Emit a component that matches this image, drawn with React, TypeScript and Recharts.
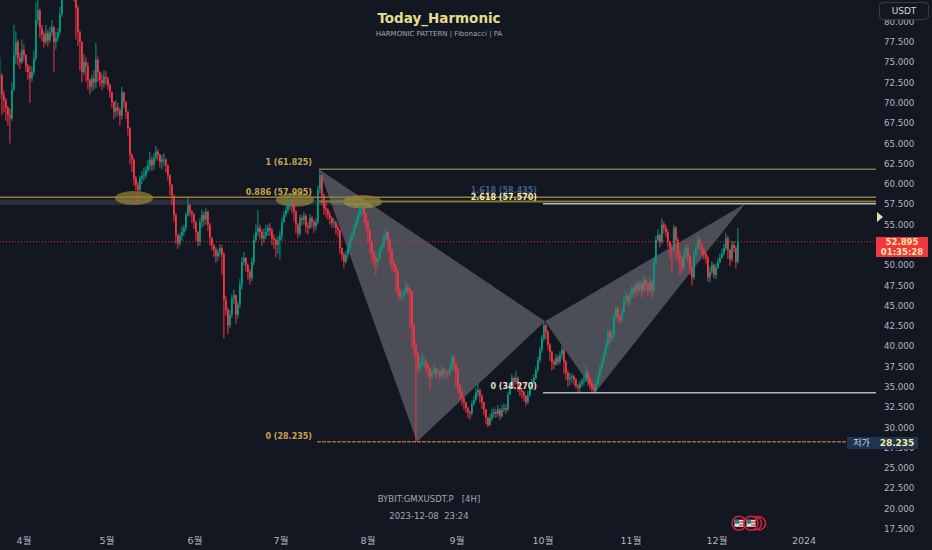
import { Bar, ComposedChart, ReferenceArea, ReferenceDot, ReferenceLine, XAxis, YAxis } from "recharts"

const FONT = "'DejaVu Sans', 'Noto Sans CJK KR', sans-serif"
const BG = "#131722"

// one bar every two pixels
const closes = [
  73.4,71,70.3,69.4,68.5,68.1,71.6,75.9,77.5,75.5,75,76.5,75.9,74.5,73.8,73,73.8,75.5,80.2,81.4,
  79.2,78.4,77.5,78.6,77.7,78.7,79.3,77.5,78,78.7,80.9,83.3,84,85,86,85,84,83.5,81.7,78.7,
  77.5,73.8,75,74.5,72.8,72,73,72.5,75.3,73.8,72.8,72.4,73.2,73,72.2,71.3,70.1,68.9,69.4,69.1,
  68.4,71.3,70.1,68.9,66.9,63.6,63,60.7,59.9,59.3,60.7,61,61.1,61.7,62.3,63,62.3,63.2,64,63.6,
  62.7,63,63,62.3,61.1,59.9,58.6,56.2,53.7,52.7,53.6,54.1,54.6,56.2,57.4,56.6,56.3,55.3,54.1,52.9,
  55.3,56.2,55.6,56.6,55,53.3,52.5,51.9,51.1,51.6,52.1,51.3,45.7,44.5,42.6,43.9,45.9,46.3,43.9,45.1,
  47.6,50.4,50.9,50,49.2,48.4,50.4,53.1,54.1,54.6,54.1,53.3,53.7,54.1,54.6,54.3,53.3,53.1,52.5,53.1,
  53.6,55.3,56.2,56.8,57.4,58,57.4,56.6,55,53.9,55.8,55.6,56.1,54.8,54.6,55.8,55.3,54.8,55.3,59.3,
  61.1,58.6,57,56.8,56.2,55.8,55.2,55.3,54.6,54.3,52.1,51.3,50.4,51.3,52.1,53.1,53.7,54.6,55.3,56.2,
  56.8,57,56.3,55.3,54.3,52.9,51.6,50.9,50.4,50.9,51.9,52.4,53.3,54.1,53.1,51.9,50.4,49.9,49.2,46.9,
  46.2,46.2,46.7,47.3,46.9,46.7,42.6,40.2,39.1,37.3,37.7,38.1,38.1,37.6,37.3,36.3,36.8,37.3,36.6,36.8,
  36.4,37.1,36.7,36.8,36.6,37.3,38.6,37.8,37.1,35.2,34.4,33.6,33.1,32.4,31.9,31.7,32.9,33.4,34.3,34.6,
  33.9,33.1,32.2,31.2,30.3,31.2,31.7,31.9,31.7,32.2,31.4,32.2,32.4,32.2,34,35.2,36.1,35.6,36.1,35.2,
  34.6,34.4,33.9,33.1,34,34.9,35.6,36.1,37.1,38.3,39.6,41,42.6,41.8,40.2,39.3,38.1,37.8,38.6,38.1,
  39,39.6,38.1,36.8,35.9,36.1,36.3,35.9,35.1,34.9,35.4,35.7,35.9,36.8,36.1,35.4,34.9,34.5,35.4,36.3,
  37.3,38.1,39.1,40.2,41.8,41,41.4,43.5,44.7,43.7,43.3,44.2,45.7,46.2,45.5,46.3,47.2,46.7,47.6,46.9,
  47.7,46.9,48.2,47.7,46.9,47.9,46.9,50.4,53.1,53.7,52.9,55,54.6,54.1,52.9,52.1,51.9,54.6,53.1,51.3,
  50.9,49.7,51.3,52.1,51.1,49.7,48.5,51.3,52.1,53.1,52.5,51.9,51.4,50.9,48.5,49.2,50,48.8,49.7,50.4,
  50.9,51.4,52.1,53.3,51.9,50.7,52.5,52.1,50.4,52.9,
]

const highs = [
  75.6,73.6,71.5,70.6,69.6,69.3,72.5,79.6,78.8,77.8,76.2,77.8,77.2,76,74.8,74.6,74.5,76.4,82.4,82.8,
  81.6,79.6,78.8,79.6,79,79.4,80.2,79.5,78.7,79.2,81.8,84.5,85.5,86.5,87,86.5,85.5,85,83.8,82,
  78.9,77.6,76,75.6,75,73,73.5,74,77.4,75.7,73.9,73.6,74,73.9,73.2,72.4,71.4,70.2,70.3,70,
  69.4,72,71.4,70.2,69,67,63.8,63.2,61,60.3,61,61.6,62,62.2,63,64,63.4,63.8,64.7,64.3,
  63.7,63.6,63.8,63.2,62.4,61.2,60,58.7,56.4,53.9,54,54.8,55,56.5,58.4,57.6,56.8,56.4,55.5,54.2,
  55.8,56.9,56.6,57.1,56.7,55.2,53.5,52.6,52.2,52,52.6,52.5,51.6,46.2,44.8,44.5,46.4,47,46.4,45.5,
  48.3,51,51.6,51,50.2,49.5,50.9,53.8,55,56.8,55,54.4,54.5,55,55,55.2,54.6,53.8,53.4,53.6,
  54.2,55.9,56.7,57.2,57.8,58.7,58.2,57.6,56.8,55.2,56.2,56.2,56.6,56.3,55.3,56.3,56.1,55.6,55.8,59.8,
  61.82,61,58.8,57.6,57,56.6,56,55.8,55.5,55,54.4,52.2,51.6,51.8,52.6,53.6,54.2,55,55.8,56.6,
  57.2,57.5,57.2,56.5,55.5,54.4,53,51.8,51.2,51.5,52.3,52.8,53.8,54.5,54.2,53.3,52,50.6,50.1,49.4,
  47.2,46.8,47.2,48,47.6,47.2,46.9,42.8,40.5,39.2,38.6,39,38.8,38.4,37.9,37.4,37.2,37.9,37.5,37.3,
  37.1,37.6,37.4,37.2,37.1,37.8,39.1,38.8,37.9,37.3,35.4,34.6,33.8,33.2,32.6,32.1,33.3,33.9,34.8,35.4,
  34.8,34.1,33.2,32.3,31.3,31.7,32.3,32.5,32.3,32.8,32.4,32.8,33,32.8,34.4,35.6,36.6,36.3,37,36.3,
  35.4,34.9,34.5,34,34.5,35.2,36,36.6,37.5,38.7,40,41.4,43,42.8,42,40.4,39.5,38.4,39.1,38.9,
  39.4,40.1,39.8,38.3,37,36.7,36.7,36.5,36.1,35.4,35.8,36.1,36.4,37.7,37,36.3,35.7,35.3,35.8,36.7,
  37.7,38.6,39.5,40.7,42.2,42,42,44,45,44.9,44,44.7,46.2,46.9,46.4,46.8,47.6,47.5,48,48,
  48.2,48,48.7,48.4,47.9,48.4,48.1,50.9,53.6,54.4,53.9,55.8,55.4,55,54.4,53,52.6,55,54.8,53.4,
  51.7,51,52,52.6,52.4,51.3,49.9,51.8,52.6,53.8,53.4,52.6,52.1,51.6,51.2,49.8,50.5,50.2,50.2,50.9,
  51.4,52,52.6,54,53.6,52,53,52.9,52.4,54.6,
]

const lows = [
  70.5,68.5,68.8,67.8,67.2,65,67.8,71.4,74.8,74.6,74.2,74.8,75.2,73.8,72.8,70,72.6,73.4,75.2,79.6,
  78,77.6,76.8,77.2,76.9,77.4,78.2,73.8,76.6,77.6,78.4,80.6,83,84,85,84,83,82.5,77.8,77,
  74,72.5,73.4,72.6,71.6,71,71.4,71.6,71.8,72.6,72,71.6,71.9,72.2,71.6,70.6,69.4,68,68.2,68.4,
  67.2,67.9,69.4,68,66,62.4,61.5,59.8,59.2,57.7,59,60,60.4,60.7,61.4,61.7,61.6,61.8,62.8,62.9,
  62,61.8,62.2,61.4,60.4,58.6,57.4,55.4,52.6,52,52.4,53,53.6,54.2,56,56,55.2,54.5,53,52.3,
  52.4,54.6,54.8,55,54.2,52.4,51.8,51,50.3,50.5,51,48.8,41,43.8,41.5,42.2,43.5,45.2,42.8,43.4,
  44.7,47,50,49.2,48.2,47.6,48,50,52.8,53.6,53.2,52.4,52.8,53.2,53.6,53.6,52.5,52,51,51.4,
  50.7,53,55.2,55.9,56.4,56.8,56.4,55.4,53.9,53.3,53.6,54.9,55,54,53.8,54.4,54.6,54,54.3,55,
  58.8,57.4,56.2,55.9,55.6,55,54.6,54.6,53.8,53.4,51.4,50.6,49.6,50.2,50.8,51.8,52.8,53.4,54.4,55,
  55.8,56.1,55.2,54.2,52.8,51.4,50.4,49.8,48.8,49.8,50.6,51.6,52.2,52.9,51.6,50,49.4,49,46.6,46,
  45.6,45.6,45.9,46.4,46.3,42.2,39.8,38.8,28.235,36.6,36.9,37.5,37.4,36.8,36.2,34.6,35.9,36.3,36,36.2,
  35.8,36.2,36,36.1,36,36.4,37,36.8,35,34.2,33.4,32.8,32.2,31.8,31.2,31,31.5,32.7,33.2,33.8,
  33,32.3,31.5,30.4,30,30.2,30.8,31.2,31.2,31.3,30.9,31.2,31.9,31.7,32,34.8,35.2,35,35.3,34.4,
  33.9,33.6,33.2,32.6,32.9,33.8,34.6,35.4,35.9,36.8,38,39.2,40.6,40.9,39.6,38.2,37,37.2,37.6,37.7,
  37.8,38.4,36.6,35.9,35,35.2,35.5,35.2,34.8,34.3,34.4,35,35.2,35.6,35.1,34.7,34.3,34.2,34.3,35.2,
  36,37,37.9,38.8,39.8,40.4,40.6,41,43.4,43,42.8,43,43.9,45.2,44.9,45,45.9,46,46.3,46.2,
  46.6,46,46.6,46.8,46.2,46.6,46,46.5,50,52.8,52.2,52.6,53.9,53.4,52.2,50.8,49.2,51.5,50.8,50.4,
  48.8,49,49.5,50.8,50.4,48.8,47.5,48.2,51,51.9,51.8,51.2,50.7,50.2,48,47.9,48.9,48.4,48.3,49.5,
  50.2,50.8,51.2,51.8,50.8,49.9,50.4,51.6,49.6,50.2,
]

const monthTicks = [12, 53.5, 97.5, 140.5, 184, 228.5, 271.5, 315.5, 358.5, 402]
const monthLabels = ["4월", "5월", "6월", "7월", "8월", "9월", "10월", "11월", "12월", "2024"]
const priceTicks = [17.5, 20, 22.5, 25, 27.5, 30, 32.5, 35, 37.5, 40, 42.5, 45, 47.5, 50, 52.5, 55, 57.5, 60, 62.5, 65, 67.5, 70, 72.5, 75, 77.5, 80]

const patternLeft = [[159.5, 61.825], [208.5, 28.235], [272.5, 43.1]]
const patternRight = [[272.5, 43.1], [297.5, 34.27], [372.5, 57.57]]
const zones = [[57.5, 76.5, 57.4, 59.14], [138, 157, 57.2, 58.9], [171.5, 191, 57, 58.65]]

const levels = [
  { y: 61.825, from: 159.5, to: 438, color: "#7f7a33", width: 1.5, dash: "" },
  { y: 58.38, from: 0, to: 438, color: "#9c7a35", width: 1.5, dash: "" },
  { y: 57.86, from: 159.5, to: 438, color: "#7f7a33", width: 2, dash: "" },
  { y: 57.57, from: 271.5, to: 438, color: "#b2b5be", width: 1.5, dash: "" },
  { y: 34.27, from: 271.5, to: 438, color: "#b2b5be", width: 1.5, dash: "" },
  { y: 52.895, from: 0, to: 438, color: "#d9303f", width: 1, dash: "1 2" },
  { y: 28.235, from: 158.5, to: 424, color: "#e09a2f", width: 1, dash: "4 1" },
]

const fibLabels = [
  { text: "1 (61.825)", bar: 156, y: 62.3, color: "#c9a352" },
  { text: "0.886 (57.995)", bar: 156, y: 58.6, color: "#c9a352" },
  { text: "1.618 (58.435)", bar: 268.5, y: 58.9, color: "#3f5f86" },
  { text: "2.618 (57.570)", bar: 268.5, y: 58.05, color: "#f3e9b5" },
  { text: "0 (34.270)", bar: 268.5, y: 34.7, color: "#e4dfc4" },
  { text: "0 (28.235)", bar: 156, y: 28.6, color: "#c9a352" },
]

const flagBars = [369.5, 375.5]
const ringBars = [377.5, 379.5]

const bars = closes.map((close, i) => ({
  bar: i,
  open: i === 0 ? close : closes[i - 1],
  close,
  high: highs[i],
  low: lows[i],
}))

function Candle(props: any) {
  const { x, y, width, height, payload } = props
  if (!payload) return null
  const perUnit = height / (payload.high - payload.low)
  const top = y + (payload.high - Math.max(payload.open, payload.close)) * perUnit
  const size = Math.max(Math.abs(payload.open - payload.close) * perUnit, 1)
  const color = payload.close >= payload.open ? "#089981" : "#f23645"
  return (
    <g>
      <rect x={x + width / 2 - 0.5} y={y} width={1} height={height} fill={color} />
      <rect x={x} y={top} width={width} height={size} fill={color} />
    </g>
  )
}

const triangle = (verts: number[][]) => (p: any) => {
  const xs = verts.map(v => v[0])
  const ys = verts.map(v => v[1])
  const x0 = Math.min(...xs), x1 = Math.max(...xs)
  const y0 = Math.min(...ys), y1 = Math.max(...ys)
  const pts = verts.map(v => `${p.x + ((v[0] - x0) / (x1 - x0)) * p.width},${p.y + ((y1 - v[1]) / (y1 - y0)) * p.height}`)
  return <polygon points={pts.join(" ")} fill="#ffffff" fillOpacity={0.24} />
}

const ellipse = (p: any) => (
  <ellipse cx={p.x + p.width / 2} cy={p.y + p.height / 2} rx={p.width / 2} ry={p.height / 2} fill="#b5a53c" fillOpacity={0.55} />
)

const ring = (p: any) => <circle cx={p.cx} cy={p.cy} r={6.5} fill="none" stroke="#d81e3a" strokeWidth={1.5} />

const flag = (p: any) => (
  <g>
    <circle cx={p.cx} cy={p.cy} r={7} fill={BG} stroke="#d81e3a" strokeWidth={1.5} />
    <rect x={p.cx - 4.5} y={p.cy - 3.5} width={9} height={7} fill="#e8e2c8" />
    <rect x={p.cx} y={p.cy - 2} width={4.5} height={1.4} fill="#e0434f" />
    <rect x={p.cx} y={p.cy + 1} width={4.5} height={1.4} fill="#e0434f" />
    <rect x={p.cx - 4.5} y={p.cy - 3.5} width={4.5} height={4} fill="#2f7d8c" />
  </g>
)

const overlay = (left: number, top: number, width: number, extra: any) => ({
  position: "absolute" as const,
  left,
  top,
  width,
  textAlign: "center" as const,
  fontFamily: FONT,
  whiteSpace: "pre" as const,
  ...extra,
})

export default function App() {
  return (
    <div style={{ position: "absolute", left: 0, top: 0, width: 932, height: 550, background: BG, overflow: "hidden" }}>
      <ComposedChart width={932} height={550} data={bars} margin={{ top: 0, right: 0, bottom: 0, left: 0 }}>
        <XAxis
          dataKey="bar"
          type="number"
          domain={[0, 438]}
          allowDataOverflow
          ticks={monthTicks}
          interval={0}
          height={18}
          axisLine={false}
          tickLine={false}
          tick={{ fill: "#b2b5be", fontSize: 9.5, fontFamily: FONT }}
          tickMargin={-1}
          tickFormatter={(v: number) => monthLabels[monthTicks.indexOf(v)]}
        />
        <YAxis
          orientation="right"
          width={56}
          domain={[17.13, 82.67]}
          allowDataOverflow
          ticks={priceTicks}
          interval={0}
          axisLine={false}
          tickLine={false}
          tick={{ fill: "#b2b5be", fontSize: 8.7, fontFamily: FONT }}
          tickFormatter={(v: number) => v.toFixed(3)}
        />
        <ReferenceArea x1={0} x2={191} y1={57.4} y2={58.1} fill="#ffffff" fillOpacity={0.1} stroke="none" />
        <ReferenceArea x1={159.5} x2={272.5} y1={28.235} y2={61.825} shape={triangle(patternLeft)} />
        <ReferenceArea x1={272.5} x2={372.5} y1={34.27} y2={57.57} shape={triangle(patternRight)} />
        <Bar dataKey={(d: any) => [d.low, d.high]} barSize={2} shape={<Candle />} isAnimationActive={false} />
        {levels.map(l => (
          <ReferenceLine
            key={l.y}
            segment={[{ x: l.from, y: l.y }, { x: l.to, y: l.y }]}
            stroke={l.color}
            strokeWidth={l.width}
            strokeDasharray={l.dash}
          />
        ))}
        {zones.map(z => (
          <ReferenceArea key={z[0]} x1={z[0]} x2={z[1]} y1={z[2]} y2={z[3]} shape={ellipse} />
        ))}
        {fibLabels.map(f => (
          <ReferenceDot
            key={f.text}
            x={f.bar}
            y={f.y}
            r={0}
            shape={(p: any) => (
              <text x={p.cx} y={p.cy} textAnchor="end" fontFamily={FONT} fontSize={8} fontWeight="bold" fill={f.color}>
                {f.text}
              </text>
            )}
          />
        ))}
        {ringBars.map(b => (
          <ReferenceDot key={b} x={b} y={18.2} r={0} shape={ring} />
        ))}
        {flagBars.map(b => (
          <ReferenceDot key={b} x={b} y={18.2} r={0} shape={flag} />
        ))}
      </ComposedChart>

      <div style={overlay(239, 10, 400, { color: "#e6dc8f", fontSize: 13.5, fontWeight: "bold" })}>Today_Harmonic</div>
      <div style={overlay(239, 30, 400, { color: "#a3a6af", fontSize: 7, fontWeight: "normal" })}>HARMONIC PATTERN | Fibonacci | PA</div>
      <div style={overlay(329, 494, 200, { color: "#a3a6af", fontSize: 8.5 })}>{"BYBIT:GMXUSDT.P   [4H]"}</div>
      <div style={overlay(329, 511, 200, { color: "#a3a6af", fontSize: 8.5 })}>{"2023-12-08  23:24"}</div>

      <div style={overlay(879, 2, 50, { height: 18, lineHeight: "16px", boxSizing: "border-box", border: "1px solid #363a45", borderRadius: 4, background: BG, color: "#d1d4dc", fontSize: 9 })}>USDT</div>

      <div style={overlay(876, 237, 52, { height: 20, background: "#f23645", color: "#fdeb9c", fontSize: 8.5, fontWeight: "bold", lineHeight: "10px" })}>
        52.895
        <br />
        01:35:28
      </div>

      <div style={overlay(847, 437, 29, { height: 12, lineHeight: "12px", background: "#1c3553", color: "#d1d4dc", fontSize: 9 })}>저가</div>
      <div style={overlay(876, 437, 42, { height: 12, lineHeight: "12px", background: "#1c3553", color: "#fdeb9c", fontSize: 9, fontWeight: "bold" })}>28.235</div>

      <svg width={8} height={10} style={{ position: "absolute", left: 877, top: 212 }}>
        <polygon points="0,0 6,5 0,10" fill="#e8dca8" />
      </svg>
    </div>
  )
}
